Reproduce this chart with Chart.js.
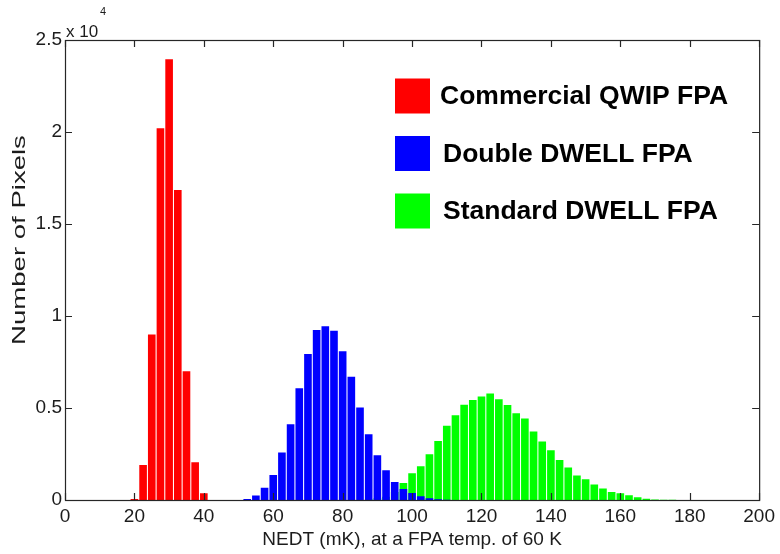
<!DOCTYPE html>
<html>
<head>
<meta charset="utf-8">
<title>NEDT histogram</title>
<script src="https://cdn.jsdelivr.net/npm/chart.js@4.4.0/dist/chart.umd.min.js"></script>
<style>
  html, body { margin: 0; padding: 0; background: #fff; }
  canvas { display: block; }
</style>
</head>
<body>
<canvas id="nedtChart" width="780" height="554"></canvas>
<script>
// bin centres (mK) and pixel counts for each focal plane array
const qwipNedt = [20, 22.5, 25, 27.5, 30, 32.5, 35, 37.5, 40];
const qwipPixels = [60, 1900, 9000, 20200, 23950, 16850, 7000, 2050, 370];

const doubleNedt = [52.5, 55, 57.5, 60, 62.5, 65, 67.5, 70, 72.5, 75, 77.5, 80,
  82.5, 85, 87.5, 90, 92.5, 95, 97.5, 100, 102.5, 105, 107.5, 110];
const doublePixels = [50, 250, 670, 1360, 2580, 4120, 6080, 7930, 9240, 9440, 9200, 8080,
  6700, 5030, 3580, 2430, 1620, 980, 600, 380, 210, 90, 40, 15];

const standardNedt = [87.5, 90, 92.5, 95, 97.5, 100, 102.5, 105, 107.5, 110, 112.5, 115,
  117.5, 120, 122.5, 125, 127.5, 130, 132.5, 135, 137.5, 140, 142.5, 145,
  147.5, 150, 152.5, 155, 157.5, 160, 162.5, 165, 167.5, 170, 172.5, 175];
const standardPixels = [40, 90, 180, 440, 930, 1450, 1830, 2490, 3210, 4030, 4610, 5170,
  5430, 5630, 5790, 5480, 5160, 4720, 4430, 3720, 3180, 2710, 2170, 1760,
  1330, 1130, 840, 620, 435, 365, 255, 145, 70, 30, 15, 8];

const seriesNames = ['Commercial QWIP FPA', 'Double DWELL FPA', 'Standard DWELL FPA'];
const seriesColors = ['#ff0000', '#0000ff', '#00ff00'];

const xTicks = [0, 20, 40, 60, 80, 100, 120, 140, 160, 180, 200];
const yTicks = [0, 5000, 10000, 15000, 20000, 25000];

const FONT = '"Liberation Sans", Arial, Helvetica, sans-serif';
const INK = '#1c1c1c';

function toPoints(xs, ys) {
  return xs.map((x, i) => ({x: x, y: ys[i]}));
}

// axes box with MATLAB-style inward ticks, plus the exponent and y label
const framePlugin = {
  id: 'frame',
  afterDatasetsDraw(chart) {
    const {ctx, chartArea: a, scales} = chart;
    ctx.save();
    ctx.strokeStyle = '#262626';
    ctx.lineWidth = 1.2;
    ctx.strokeRect(a.left + 0.5, a.top + 0.5, a.right - a.left, a.bottom - a.top);
    ctx.beginPath();
    xTicks.forEach(v => {
      const px = Math.round(scales.x.getPixelForValue(v)) + 0.5;
      ctx.moveTo(px, a.bottom); ctx.lineTo(px, a.bottom - 7);
      ctx.moveTo(px, a.top); ctx.lineTo(px, a.top + 7);
    });
    yTicks.forEach(v => {
      const py = Math.round(scales.y.getPixelForValue(v)) + 0.5;
      ctx.moveTo(a.left, py); ctx.lineTo(a.left + 7, py);
      ctx.moveTo(a.right, py); ctx.lineTo(a.right - 7, py);
    });
    ctx.stroke();

    ctx.fillStyle = INK;
    ctx.textAlign = 'left';
    ctx.textBaseline = 'alphabetic';
    ctx.font = '17px ' + FONT;
    ctx.fillText('x 10', a.left + 1, a.top - 3);
    ctx.font = '11px ' + FONT;
    ctx.fillText('4', a.left + 35, a.top - 25);

    ctx.translate(20, 240);
    ctx.rotate(-Math.PI / 2);
    ctx.scale(1.45, 1);
    ctx.font = '19px ' + FONT;
    ctx.textAlign = 'center';
    ctx.textBaseline = 'middle';
    ctx.fillText('Number of Pixels', 0, 0);
    ctx.restore();
  }
};

// legend as coloured squares with bold labels inside the axes
const boxLegend = {
  id: 'boxLegend',
  afterDraw(chart) {
    const ctx = chart.ctx;
    ctx.save();
    ctx.font = 'bold 26.5px ' + FONT;
    ctx.textAlign = 'left';
    ctx.textBaseline = 'middle';
    chart.data.datasets.forEach((ds, i) => {
      const cy = 96 + i * 57.5;
      ctx.fillStyle = ds.backgroundColor;
      ctx.fillRect(395, cy - 17.5, 35, 35);
      ctx.fillStyle = '#000';
      ctx.fillText(ds.label, 440 + (i ? 3 : 0), cy + 1);
    });
    ctx.restore();
  }
};

new Chart(document.getElementById('nedtChart'), {
  type: 'bar',
  data: {
    datasets: [
      {label: seriesNames[0], data: toPoints(qwipNedt, qwipPixels), backgroundColor: seriesColors[0]},
      {label: seriesNames[1], data: toPoints(doubleNedt, doublePixels), backgroundColor: seriesColors[1]},
      {label: seriesNames[2], data: toPoints(standardNedt, standardPixels), backgroundColor: seriesColors[2]}
    ]
  },
  options: {
    responsive: false,
    animation: false,
    layout: {padding: {top: 40, right: 18, left: 0, bottom: 0}},
    datasets: {
      bar: {grouped: false, barPercentage: 0.88, categoryPercentage: 1, borderWidth: 0}
    },
    plugins: {
      legend: {display: false},
      tooltip: {enabled: false}
    },
    scales: {
      x: {
        type: 'linear',
        min: 0,
        max: 200,
        offset: false,
        grid: {display: false, offset: false, drawTicks: false},
        border: {display: false},
        afterFit: s => { s.height = 54; },
        ticks: {stepSize: 20, padding: 5, color: INK, font: {family: FONT, size: 19}, maxRotation: 0},
        title: {
          display: true,
          text: 'NEDT (mK), at a FPA temp. of 60 K',
          color: INK,
          font: {family: FONT, size: 19},
          padding: {top: 0, bottom: 3}
        }
      },
      y: {
        min: 0,
        max: 25000,
        grid: {display: false, drawTicks: false},
        border: {display: false},
        afterFit: s => { s.width = 65; },
        ticks: {
          stepSize: 5000,
          padding: 3,
          color: INK,
          font: {family: FONT, size: 19},
          callback: v => String(v / 10000)
        }
      }
    }
  },
  plugins: [framePlugin, boxLegend]
});
</script>
</body>
</html>
